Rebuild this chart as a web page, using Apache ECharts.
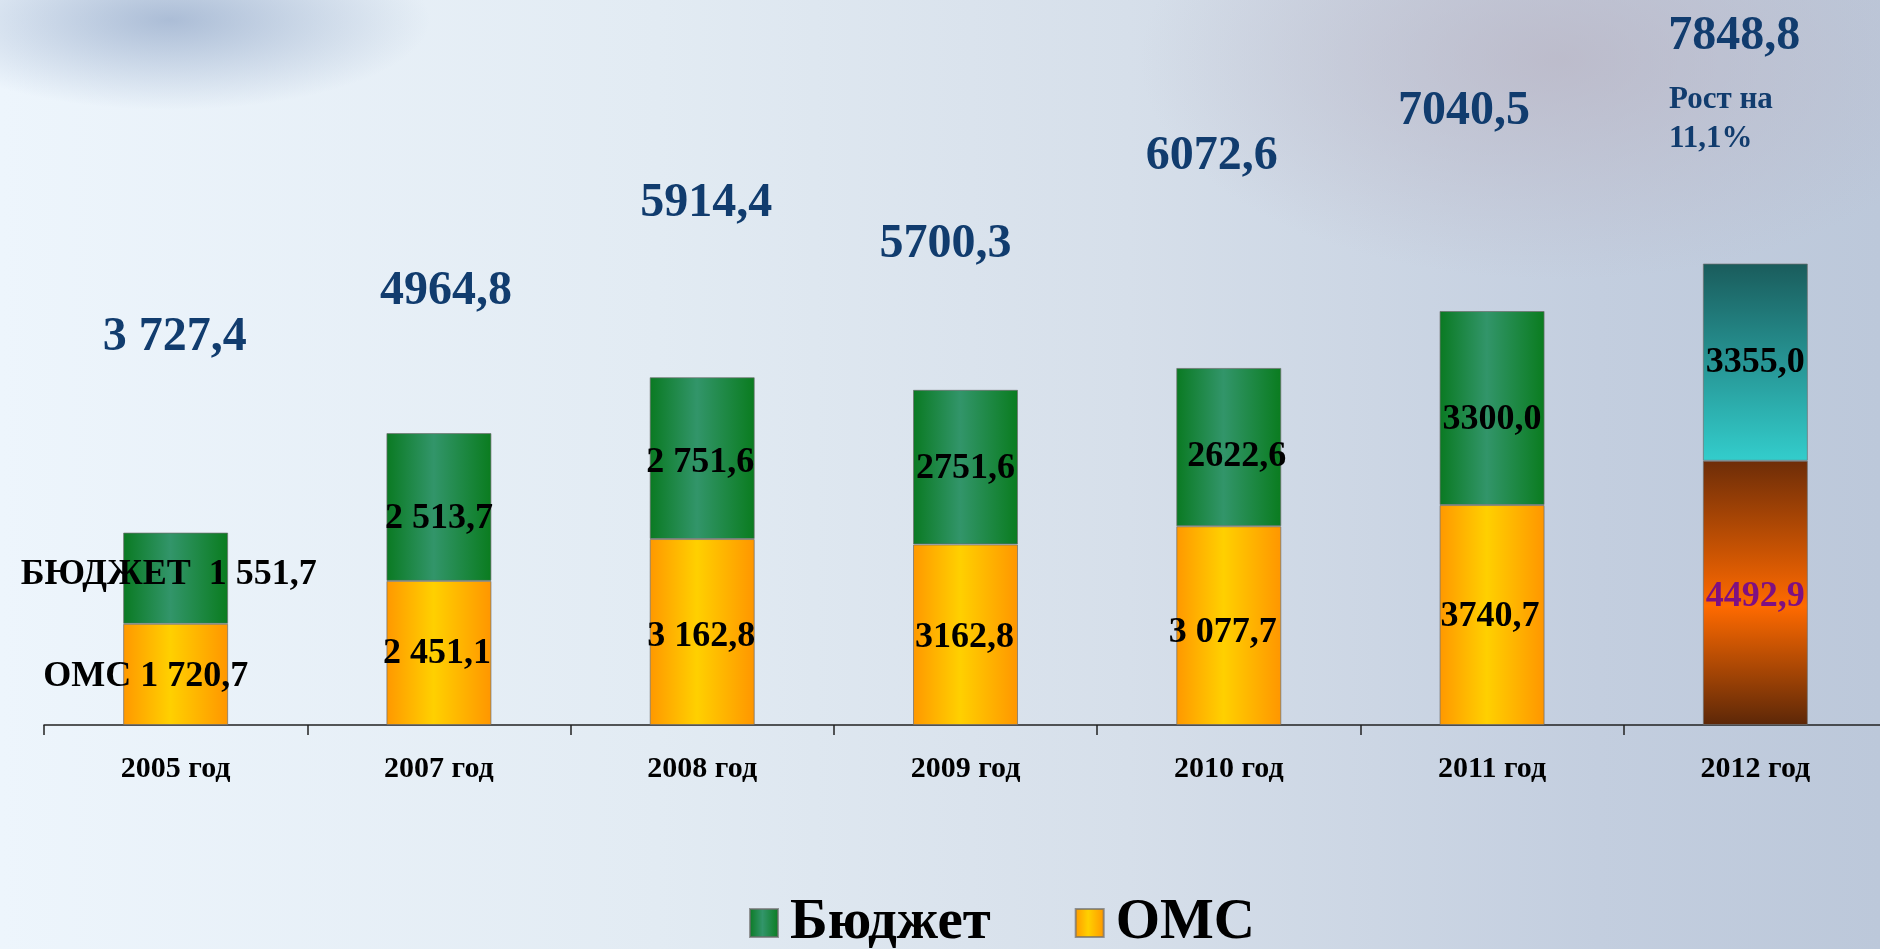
<!DOCTYPE html>
<html>
<head>
<meta charset="utf-8">
<script src="https://cdn.jsdelivr.net/npm/echarts@6/dist/echarts.min.js"></script>
<style>
    html, body { margin: 0; padding: 0; }
    #chart {
        width: 1880px;
        height: 949px;
        background:
            radial-gradient(ellipse 260px 90px at 170px 20px, rgba(120,145,185,0.55), rgba(120,145,185,0) 100%),
            radial-gradient(ellipse 420px 220px at 1560px 60px, rgba(185,180,195,0.7), rgba(185,180,195,0) 100%),
            linear-gradient(to right, #edf5fc 0%, #e2ebf3 35%, #d6dfea 60%, #c3cedf 85%, #bcc8da 100%);
    }
</style>
</head>
<body>
<div id="chart"></div>
<script>
    const years = ['2005 год', '2007 год', '2008 год', '2009 год', '2010 год', '2011 год', '2012 год'];
    const oms = [1720.7, 2451.1, 3162.8, 3070.0, 3380.0, 3740.7, 4492.9];
    const budget = [1551.7, 2513.7, 2751.6, 2630.3, 2692.6, 3300.0, 3355.0];
    const omsText = ['ОМС 1 720,7', '2 451,1', '3 162,8', '3162,8', '3 077,7', '3740,7', '4492,9'];
    const budgetText = ['БЮДЖЕТ  1 551,7', '2 513,7', '2 751,6', '2751,6', '2622,6', '3300,0', '3355,0'];
    const totalText = ['3 727,4', '4964,8', '5914,4', '5700,3', '6072,6', '7040,5', '7848,8'];
    const growthText = 'Рост на\n11,1%';

    // label nudges, px
    const omsOffset = [[-30, 2], [-2, 1], [-1, 5], [-1, 3], [-6, 7], [-2, 2], [0, 4]];
    const budgetOffset = [[-7, -3], [0, 12], [-2, 5], [0, 2], [8, 10], [0, 12], [0, 1]];
    const totalOffset = [[-1, -195], [7, -141], [4, -174], [-20, -145], [-17, -211], [-28, -199], [-21, -227]];

    const serif = '"Liberation Serif", "DejaVu Serif", serif';

    const greenGrad = {
        type: 'linear', x: 0, y: 0, x2: 1, y2: 0,
        colorStops: [
            { offset: 0, color: '#0a7a22' },
            { offset: 0.45, color: '#32956a' },
            { offset: 1, color: '#0a7c1f' }
        ]
    };
    const orangeGrad = {
        type: 'linear', x: 0, y: 0, x2: 1, y2: 0,
        colorStops: [
            { offset: 0, color: '#ff9800' },
            { offset: 0.45, color: '#ffd000' },
            { offset: 1, color: '#ff9600' }
        ]
    };
    const tealGrad = {
        type: 'linear', x: 0, y: 0, x2: 0, y2: 1,
        colorStops: [
            { offset: 0, color: '#1a5c5c' },
            { offset: 1, color: '#33cdcc' }
        ]
    };
    const brownGrad = {
        type: 'linear', x: 0, y: 0, x2: 0, y2: 1,
        colorStops: [
            { offset: 0, color: '#6e2d08' },
            { offset: 0.55, color: '#ff6a00' },
            { offset: 1, color: '#5c2708' }
        ]
    };

    const last = years.length - 1;

    const omsData = oms.map(function (v, i) {
        const item = { value: v, label: { offset: omsOffset[i] } };
        if (i === last) {
            item.itemStyle = { color: brownGrad };
            item.label.color = '#7e1082';
        }
        return item;
    });
    const budgetData = budget.map(function (v, i) {
        const item = { value: v, label: { offset: budgetOffset[i] } };
        if (i === last) item.itemStyle = { color: tealGrad };
        return item;
    });
    const totalData = oms.map(function (v, i) {
        return { value: v + budget[i], label: { offset: totalOffset[i] } };
    });

    const chart = echarts.init(document.getElementById('chart'));
    chart.setOption({
        animation: false,
        grid: {
            left: 44,
            top: 137,
            bottom: 224,
            width: 1843,
            outerBoundsMode: 'none'
        },
        legend: {
            data: ['Бюджет', 'ОМС'],
            left: 744,
            top: 889,
            itemWidth: 28,
            itemHeight: 28,
            itemGap: 84,
            icon: 'rect',
            textStyle: {
                fontFamily: serif,
                fontWeight: 'bold',
                fontSize: 57,
                lineHeight: 58,
                color: '#000',
                padding: [0, 0, 0, 7]
            }
        },
        xAxis: {
            type: 'category',
            data: years,
            axisLine: {
                lineStyle: { color: '#222', width: 1.5 }
            },
            axisTick: {
                show: true,
                length: 10,
                lineStyle: { color: '#222', width: 1.5 }
            },
            axisLabel: {
                margin: 29,
                fontFamily: serif,
                fontWeight: 'bold',
                fontSize: 30,
                color: '#000'
            }
        },
        yAxis: {
            type: 'value',
            min: 0,
            max: 10000,
            show: false,
            splitLine: { show: false }
        },
        graphic: [{
            type: 'text',
            left: 1669,
            top: 80,
            style: {
                text: growthText,
                fontFamily: serif,
                fontWeight: 'bold',
                fontSize: 31,
                lineHeight: 39,
                fill: '#113c6e'
            }
        }],
        series: [{
            name: 'ОМС',
            type: 'bar',
            stack: 'all',
            barWidth: 105,
            data: omsData,
            itemStyle: {
                color: orangeGrad,
                borderColor: 'rgba(110,110,110,0.7)',
                borderWidth: 1
            },
            label: {
                show: true,
                position: 'inside',
                fontFamily: serif,
                fontWeight: 'bold',
                fontSize: 36,
                color: '#000',
                formatter: function (p) { return omsText[p.dataIndex]; }
            }
        }, {
            name: 'Бюджет',
            type: 'bar',
            stack: 'all',
            barWidth: 105,
            data: budgetData,
            itemStyle: {
                color: greenGrad,
                borderColor: 'rgba(110,110,110,0.7)',
                borderWidth: 1
            },
            label: {
                show: true,
                position: 'inside',
                fontFamily: serif,
                fontWeight: 'bold',
                fontSize: 36,
                color: '#000',
                formatter: function (p) { return budgetText[p.dataIndex]; }
            }
        }, {
            name: 'Всего',
            type: 'scatter',
            symbolSize: 1,
            itemStyle: { color: 'transparent', opacity: 1 },
            data: totalData,
            z: 5,
            label: {
                show: true,
                position: 'inside',
                opacity: 1,
                fontFamily: serif,
                fontWeight: 'bold',
                fontSize: 48,
                color: '#113c6e',
                formatter: function (p) { return totalText[p.dataIndex]; }
            }
        }]
    });
</script>
</body>
</html>
